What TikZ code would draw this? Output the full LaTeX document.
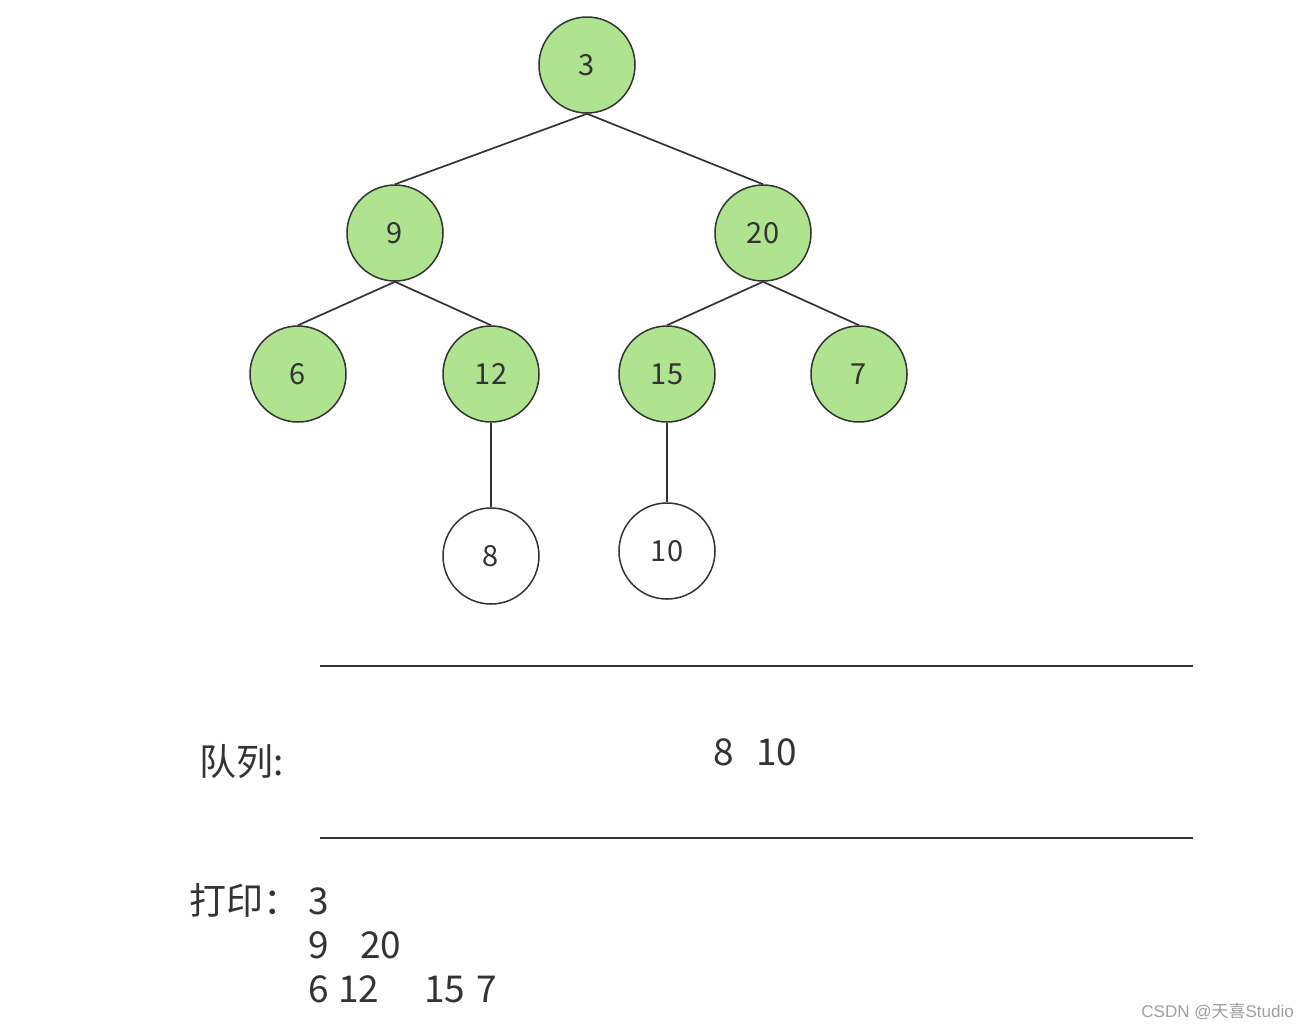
\documentclass[tikz,border=0pt]{standalone}
\usepackage{fontspec}
\setmainfont{Noto Sans CJK SC}
\newfontfamily\wmfont{Liberation Sans}
\newfontfamily\wmcjk{Noto Sans CJK SC}
\definecolor{nodegreen}{RGB}{176,227,143}
\definecolor{ink}{RGB}{51,51,51}
\tikzset{
  treenode/.style={circle, draw=ink, line width=1.5pt, minimum size=96pt, inner sep=0pt,
    font=\fontsize{29}{29}\selectfont, text=ink},
  visited/.style={treenode, fill=nodegreen},
  fresh/.style={treenode, fill=white},
  edge/.style={draw=ink, line width=1.7pt},
  big/.style={font=\fontsize{37}{37}\selectfont, text=ink, inner sep=0pt, anchor=base west},
}
\begin{document}
\begin{tikzpicture}[x=1pt,y=-1pt]
\useasboundingbox[fill=white] (0,0) rectangle (1308,1029);
\node[visited] (n3) at (587,65) {3};
\node[visited] (n9) at (395,233) {9};
\node[visited] (n20) at (763,233) {20};
\node[visited] (n6) at (298,374) {6};
\node[visited] (n12) at (491,374) {12};
\node[visited] (n15) at (667,374) {15};
\node[visited] (n7) at (859,374) {7};
\node[fresh] (n8) at (491,556) {8};
\node[fresh] (n10) at (667,551) {10};
\draw[edge] (n3.south) -- (n9.north);
\draw[edge] (n3.south) -- (n20.north);
\draw[edge] (n9.south) -- (n6.north);
\draw[edge] (n9.south) -- (n12.north);
\draw[edge] (n20.south) -- (n15.north);
\draw[edge] (n20.south) -- (n7.north);
\draw[edge] (n12.south) -- (n8.north);
\draw[edge] (n15.south) -- (n10.north);
\coordinate (l1a) at (320,666); \coordinate (l1b) at (1193,666);
\coordinate (l2a) at (320,838); \coordinate (l2b) at (1193,838);
\draw[edge] (l1a) -- (l1b);
\draw[edge] (l2a) -- (l2b);
\node[big] (qlabel) at (199,775) {队列:};
\node[big] (qv1) at (713,765) {8};
\node[big] (qv2) at (756,765) {10};
\node[big] (plabel) at (189,914) {打印：};
\node[big] (p1) at (308,914) {3};
\node[big] (p2a) at (308,958) {9};
\node[big] (p2b) at (360,958) {20};
\node[big] (p3a) at (308,1002) {6};
\node[big] (p3b) at (338,1002) {12};
\node[big] (p3c) at (424,1002) {15};
\node[big] (p3d) at (476,1002) {7};
\node[anchor=base east, inner sep=0pt, text={rgb,255:red,160;green,160;blue,160}, font=\fontsize{17}{17}\selectfont] (wm) at (1294,1017) {\wmfont CSDN @\wmcjk 天喜\wmfont Studio};
\end{tikzpicture}
\end{document}
